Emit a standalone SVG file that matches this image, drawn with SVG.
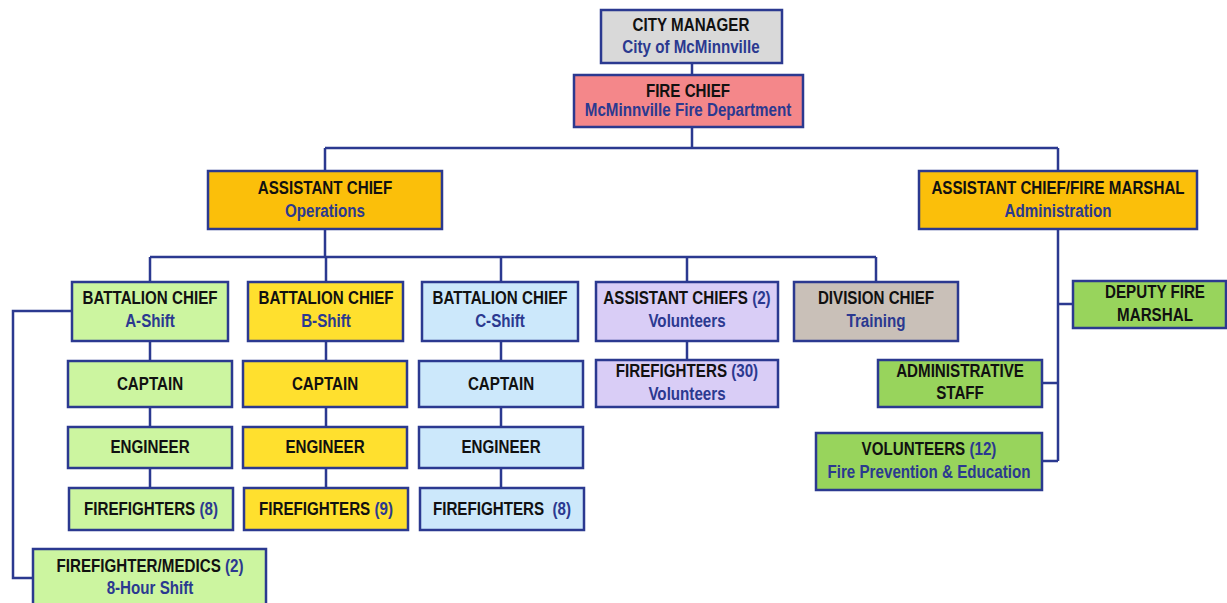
<svg xmlns="http://www.w3.org/2000/svg" width="1227" height="603" viewBox="0 0 1227 603">
<style>
.box{stroke:#2b3990;stroke-width:2.5}
.t{font-family:"Liberation Sans",Arial,sans-serif;font-weight:bold;font-size:18.5px;text-anchor:middle;fill:#111}
.s{fill:#2b3990}
.gray{fill:#d9d9d9}.red{fill:#f4878a}.gold{fill:#fbbf0a}.lgreen{fill:#ccf5a0}.yellow{fill:#ffe02e}.blue{fill:#cce8fb}.lav{fill:#d9cdf6}.taupe{fill:#c9c0b8}.green{fill:#98d45c}
#connectors path{fill:none;stroke:#2b3990;stroke-width:2.5}
</style>
<rect width="1227" height="603" fill="#ffffff"/>
<g id="connectors">
<path d="M692 63V75M692 127V148M325 148H1058M325 148V171M1058 148V171"/>
<path d="M325 229V257M150 257H876M150 257V282M326 257V282M501 257V282M687 257V282M876 257V282"/>
<path d="M150 341V361M150 407V427M150 468V488"/>
<path d="M326 341V361M326 407V427M326 468V488"/>
<path d="M501 341V361M501 407V427M501 468V488"/>
<path d="M687 341V360"/>
<path d="M72 311H13V578H33"/>
<path d="M1058 229V461M1058 304H1073M1058 383H1042M1058 461H1042"/>
</g>
<g id="city-manager"><rect class="box gray" x="601" y="10" width="181" height="53"/><text class="t" transform="translate(691 31) scale(.82 1)">CITY MANAGER</text><text class="t s" transform="translate(691 53) scale(.82 1)">City of McMinnville</text></g>
<g id="fire-chief"><rect class="box red" x="574" y="75" width="229" height="52"/><text class="t" transform="translate(688 97) scale(.82 1)">FIRE CHIEF</text><text class="t s" transform="translate(688 116) scale(.82 1)">McMinnville Fire Department</text></g>
<g id="asst-chief-ops"><rect class="box gold" x="208" y="171" width="234" height="58"/><text class="t" transform="translate(325 194) scale(.82 1)">ASSISTANT CHIEF</text><text class="t s" transform="translate(325 217) scale(.82 1)">Operations</text></g>
<g id="asst-chief-fm"><rect class="box gold" x="919" y="171" width="278" height="58"/><text class="t" transform="translate(1058 194) scale(.82 1)">ASSISTANT CHIEF/FIRE MARSHAL</text><text class="t s" transform="translate(1058 217) scale(.82 1)">Administration</text></g>
<g id="bc-a"><rect class="box lgreen" x="72" y="282" width="156" height="59"/><text class="t" transform="translate(150 304) scale(.82 1)">BATTALION CHIEF</text><text class="t s" transform="translate(150 327) scale(.82 1)">A-Shift</text></g>
<g id="bc-b"><rect class="box yellow" x="248" y="282" width="155" height="59"/><text class="t" transform="translate(326 304) scale(.82 1)">BATTALION CHIEF</text><text class="t s" transform="translate(326 327) scale(.82 1)">B-Shift</text></g>
<g id="bc-c"><rect class="box blue" x="422" y="282" width="156" height="59"/><text class="t" transform="translate(500 304) scale(.82 1)">BATTALION CHIEF</text><text class="t s" transform="translate(500 327) scale(.82 1)">C-Shift</text></g>
<g id="ac-vol"><rect class="box lav" x="596" y="282" width="182" height="59"/><text class="t" transform="translate(687 304) scale(.82 1)">ASSISTANT CHIEFS <tspan class="s">(2)</tspan></text><text class="t s" transform="translate(687 327) scale(.82 1)">Volunteers</text></g>
<g id="div-chief"><rect class="box taupe" x="794" y="282" width="164" height="59"/><text class="t" transform="translate(876 304) scale(.82 1)">DIVISION CHIEF</text><text class="t s" transform="translate(876 327) scale(.82 1)">Training</text></g>
<g id="captain-a"><rect class="box lgreen" x="68" y="361" width="164" height="46"/><text class="t" transform="translate(150 390) scale(.82 1)">CAPTAIN</text></g>
<g id="captain-b"><rect class="box yellow" x="243" y="361" width="164" height="46"/><text class="t" transform="translate(325 390) scale(.82 1)">CAPTAIN</text></g>
<g id="captain-c"><rect class="box blue" x="419" y="361" width="164" height="46"/><text class="t" transform="translate(501 390) scale(.82 1)">CAPTAIN</text></g>
<g id="ff-vol"><rect class="box lav" x="596" y="360" width="182" height="47"/><text class="t" transform="translate(687 377) scale(.82 1)">FIREFIGHTERS <tspan class="s">(30)</tspan></text><text class="t s" transform="translate(687 400) scale(.82 1)">Volunteers</text></g>
<g id="engineer-a"><rect class="box lgreen" x="68" y="427" width="164" height="41"/><text class="t" transform="translate(150 453) scale(.82 1)">ENGINEER</text></g>
<g id="engineer-b"><rect class="box yellow" x="243" y="427" width="164" height="41"/><text class="t" transform="translate(325 453) scale(.82 1)">ENGINEER</text></g>
<g id="engineer-c"><rect class="box blue" x="419" y="427" width="164" height="41"/><text class="t" transform="translate(501 453) scale(.82 1)">ENGINEER</text></g>
<g id="ff-a"><rect class="box lgreen" x="69" y="488" width="164" height="42"/><text class="t" transform="translate(151 515) scale(.82 1)">FIREFIGHTERS <tspan class="s">(8)</tspan></text></g>
<g id="ff-b"><rect class="box yellow" x="244" y="488" width="164" height="42"/><text class="t" transform="translate(326 515) scale(.82 1)">FIREFIGHTERS <tspan class="s">(9)</tspan></text></g>
<g id="ff-c"><rect class="box blue" x="420" y="488" width="164" height="42"/><text class="t" transform="translate(502 515) scale(.82 1)" xml:space="preserve">FIREFIGHTERS  <tspan class="s">(8)</tspan></text></g>
<g id="ff-medics"><rect class="box lgreen" x="33" y="549" width="233" height="60"/><text class="t" transform="translate(150 572) scale(.82 1)">FIREFIGHTER/MEDICS <tspan class="s">(2)</tspan></text><text class="t s" transform="translate(150 594) scale(.82 1)">8-Hour Shift</text></g>
<g id="deputy-fm"><rect class="box green" x="1073" y="281" width="153" height="47"/><text class="t" transform="translate(1155 298) scale(.82 1)">DEPUTY FIRE</text><text class="t" transform="translate(1155 321) scale(.82 1)">MARSHAL</text></g>
<g id="admin-staff"><rect class="box green" x="878" y="360" width="164" height="47"/><text class="t" transform="translate(960 377) scale(.82 1)">ADMINISTRATIVE</text><text class="t" transform="translate(960 399) scale(.82 1)">STAFF</text></g>
<g id="volunteers"><rect class="box green" x="816" y="433" width="226" height="57"/><text class="t" transform="translate(929 455) scale(.82 1)">VOLUNTEERS <tspan class="s">(12)</tspan></text><text class="t s" transform="translate(929 478) scale(.82 1)">Fire Prevention &amp; Education</text></g>
</svg>
